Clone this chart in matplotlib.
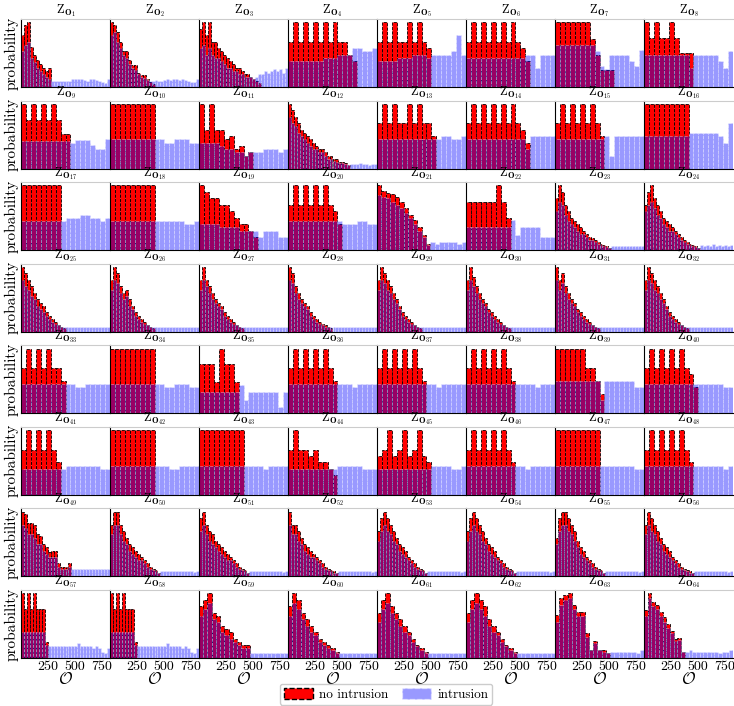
import numpy as np
import matplotlib.pyplot as plt
from matplotlib.patches import Patch

plt.rcParams['font.family'] = ['cmr10', 'DejaVu Serif']
plt.rcParams['mathtext.fontset'] = 'cm'
plt.rcParams['axes.unicode_minus'] = False

# alert weight range covered by every histogram
x_max = 825

# per node: bar heights of the "no intrusion" histogram (red) and of the
# "intrusion" histogram (blue); both use len(intrusion[k]) equal bins over [0, x_max]
no_intrusion = [
    [8, 9.5, 10, 6.2, 5, 4.2, 3.5, 3, 2.5, 3],
    [10, 9.6, 8.5, 7, 5.6, 5.6, 4.2, 3.4, 3.4, 2.2, 1.8, 1.8, 1.2, 0.8, 0.4],
    [9, 10, 8, 10, 7, 7, 6, 5.5, 5, 4.5, 4, 3.5, 3, 3, 2.5, 2, 2, 1.5, 1.2, 1, 0.6],
    [7, 10, 7, 10, 7, 10, 7, 10, 7, 10, 7, 7, 5, 4],
    [7, 10, 7, 10, 7, 7, 10, 7, 10, 7, 6],
    [7, 10, 7, 10, 7, 10, 7, 10, 7, 10, 7, 6, 4],
    [10, 10, 10, 10, 10, 10, 10, 7.4, 5, 2.6, 2.6, 2.6],
    [10, 7.5, 10, 7.5, 7.5, 10, 7.5, 5.2, 5.2, 5.2],
    [10, 7.5, 10, 7.5, 10, 7.5, 10, 7.5, 5.3, 5.3],
    [10, 10, 10, 10, 10, 10, 10, 10, 10],
    [10, 6, 10, 6, 6, 4.5, 5, 3, 3.5, 2, 2.5],
    [10, 9, 8, 7, 6, 5.5, 5, 4.5, 4, 3.5, 3, 3, 2.5, 2, 2, 1.5, 1.5, 1, 1, 0.8, 0.5],
    [7, 10, 7, 10, 7, 7, 10, 7, 10, 7, 7, 5],
    [7, 10, 7, 10, 7, 10, 7, 10, 7, 10, 7, 6, 4],
    [7, 10, 7, 10, 7, 10, 7, 10, 7, 5],
    [10, 10, 10, 10, 10, 10, 10, 10, 10],
    [10, 10, 10, 10, 10, 10, 10, 10],
    [10, 10, 10, 10, 10, 10, 10, 10, 10],
    [10, 9, 8, 8, 7, 7, 6, 5, 4, 4, 3, 2],
    [7, 10, 7, 10, 7, 10, 7, 10, 7, 6, 4],
    [10, 9.2, 8.9, 8.6, 8.2, 7.5, 6.5, 5.5, 4.6, 3.6, 2.4, 1],
    [7.4, 7.4, 7.4, 7.4, 7.4, 7.4, 10, 7.4, 5],
    [8, 10, 9, 7, 6, 5, 4.5, 4, 3.5, 3, 2.5, 2, 1.8, 1.5, 1.2, 1, 0.8, 0.6, 0.4],
    [7, 9, 10, 8, 7, 6, 5, 4.5, 4, 3.5, 3, 2.5, 2, 1.5, 1.2, 1, 0.8, 0.6, 0.4],
    [10, 9, 8, 7, 6, 5, 4.5, 4, 3, 2.5, 2, 1.5, 1, 0.8, 0.5],
    [8, 10, 9, 7, 6, 6.5, 5, 4, 3, 2.5, 2, 1.5, 1, 0.8, 0.5],
    [8, 10, 8, 7, 6, 5, 4.5, 4, 3, 2.5, 2, 1.5, 1, 0.8, 0.5],
    [10, 9, 7, 6, 5, 4.5, 4, 3, 2.5, 2, 1.5, 1.2, 1, 0.8, 0.5],
    [8, 10, 9, 8, 7, 6, 5, 4, 3, 2.5, 2, 1.5, 1, 0.8, 0.5],
    [8, 10, 8.5, 7, 6, 5, 4.5, 3.5, 3, 2.5, 2, 1.5, 1, 0.8, 0.5],
    [10, 8, 9, 7, 6, 5, 4.5, 3.5, 3, 2.5, 2, 1.5, 1, 0.8, 0.5],
    [8, 10, 9, 8, 7, 6, 5, 4, 3, 2.5, 2, 1.5, 1, 0.8, 0.5],
    [7, 10, 7, 10, 7, 10, 7, 7, 5],
    [10, 10, 10, 10, 10, 10, 10, 10, 10],
    [7.6, 7.6, 7.6, 4.8, 10, 7.6, 7.6, 4.8],
    [7, 10, 7, 10, 7, 10, 7, 10, 7, 5],
    [7, 10, 7, 10, 7, 10, 7, 10, 7, 5],
    [7, 10, 7, 10, 7, 10, 7, 10, 7, 5],
    [10, 10, 10, 10, 10, 10, 7, 7, 5, 3],
    [7, 10, 7, 10, 7, 10, 7, 10, 7, 6, 4],
    [7, 10, 7, 10, 7, 10, 7, 5],
    [10, 10, 10, 10, 10, 10, 10, 10, 10],
    [10, 10, 10, 10, 10, 10, 10, 10, 10],
    [7, 10, 7, 7, 6, 7, 5, 5, 4, 3],
    [6, 7, 10, 6, 7, 10, 6, 7, 10, 6, 5],
    [7, 10, 7, 10, 7, 10, 7, 10, 7, 5],
    [10, 10, 10, 10, 10, 10, 10, 10, 10],
    [7, 10, 7, 10, 7, 10, 7, 10, 7, 5],
    [10, 9.6, 8.3, 8.3, 8, 6.5, 6.2, 5, 4.5, 3.8, 4, 4, 2, 1.4, 1.4, 1.4, 2],
    [8, 10, 10, 8, 7, 6, 5, 4.5, 4, 3.5, 3, 2.5, 2, 1.5, 1.2, 1, 0.6],
    [9, 10, 8, 7, 6.5, 5.5, 5, 4.5, 4, 3.5, 3, 2.5, 2, 1.5, 1.2, 1, 0.6],
    [10, 8, 8, 7, 6, 5, 4.5, 4, 3.5, 3, 2.5, 2, 1.5, 1.2, 1, 0.8, 0.6],
    [7, 9, 10, 9, 8, 7, 6, 5, 4.5, 4, 3, 2.5, 2, 1.5, 1.2, 1, 0.6],
    [7, 9, 10, 9, 8, 7, 6, 5, 4.5, 4, 3, 2.5, 2, 1.5, 1.2, 1, 0.6],
    [6, 9, 10, 10, 9, 8, 7, 5.5, 4.5, 4, 3, 2.5, 2, 1.5, 1.2, 1, 0.6],
    [8, 10, 9, 8, 7, 6, 5, 4.5, 4, 3, 2.5, 2, 1.5, 1.2, 1, 0.8, 0.6],
    [10, 7.5, 10, 7.5, 10, 7.5, 7.5, 7.5, 2.5],
    [10, 7.5, 10, 7.5, 10, 7.5, 7.5, 7.5, 2.5],
    [8.1, 9, 10, 7, 6.5, 5, 4.5, 4, 3, 2.5, 2, 2],
    [8, 10, 9, 7, 6, 5, 4, 3, 2.5, 2, 1.5, 1],
    [7, 9, 10, 8, 7, 6, 5, 4, 3, 2, 1.5, 1],
    [7, 9, 10, 9, 8, 6, 5, 4, 3, 2, 1.5, 1],
    [6.6, 9.2, 9.7, 10, 8.2, 7.1, 7.1, 3.9, 1.3, 2.6, 1.3, 1.3, 0.8],
    [7.4, 10, 8.7, 8.2, 7.1, 6.3, 5.3, 4.2, 2.9, 3.1, 1],
]

intrusion = [
    [5.5, 6.5, 7, 4.5, 3.8, 3, 2.5, 2, 1.6, 1.3, 1, 1, 1, 1, 1, 1, 1, 1.2, 1.3, 1.2, 1.2, 1.1, 1, 1.2, 1.2, 1.1, 1, 0.8, 0.6, 1.3],
    [8, 8.5, 7, 6, 5, 4.5, 3.5, 3, 2.6, 2, 1.6, 1.4, 1.1, 1, 1, 1.1, 1, 1, 1.1, 1.2, 1.1, 1.2, 1.2, 1.1, 1.2, 1.1, 1, 0.8, 0.8, 1.3],
    [6, 6.5, 5, 6, 5, 4.5, 4.5, 4, 3.5, 3, 3, 2.5, 2.5, 2, 2, 1.5, 1.5, 1.5, 1.2, 1.5, 2, 2, 2.5, 2.2, 2.5, 2.8, 2.5, 2.8, 2.2, 3],
    [4, 4, 4, 4, 4, 4, 4, 4.5, 4.5, 4.5, 5, 5, 5, 6, 6, 5.5, 5.5, 6],
    [4, 4, 4, 4, 4.5, 4.5, 4.5, 5, 5, 5, 4.5, 5, 5, 5, 5, 5.5, 8, 5],
    [4.5, 4.5, 4.5, 4.5, 4.5, 4.5, 4.5, 4.5, 4.5, 4.5, 4.5, 4.5, 5, 5, 3, 5, 5, 5],
    [6.5, 6.5, 6.5, 6.5, 6.5, 6.5, 6.5, 6.5, 5.5, 3.2, 2.8, 5, 5, 5, 5, 4, 3.3, 5.7],
    [5, 5, 5, 5, 5, 5, 5, 5, 5, 3, 5, 5, 5, 5, 5, 4, 3, 5.5],
    [4.2, 4.2, 4.2, 4.2, 4.2, 4.2, 4.2, 4.2, 4.2, 4.2, 4, 4.4, 4.4, 4.4, 3.7, 3, 3, 4.5],
    [4.5, 4.5, 4.5, 4.5, 4.5, 4.5, 4.5, 4.5, 4.5, 4.5, 4.5, 4, 4, 4.5, 4.5, 4.5, 4, 4],
    [4, 4, 4, 4, 3.5, 3, 3, 2.5, 2.5, 2, 2.5, 2.5, 2.5, 3, 3, 3, 2.5, 3],
    [8, 7, 6.5, 5.5, 5, 4.5, 4, 3.5, 3, 3, 2.5, 2.5, 2, 1.5, 1.5, 1.2, 1, 0.8, 0.8, 0.7, 0.5, 0.7, 0.7, 0.7, 0.8, 0.7, 0.7, 0.6, 0.7, 0.7],
    [4.5, 4.5, 4.5, 4.5, 4.5, 4.5, 4.5, 4.5, 4.5, 4.5, 4.5, 4.5, 4.5, 5, 5, 4.5, 4.5, 5],
    [4.5, 4.5, 4.5, 4.5, 4.5, 4.5, 4.5, 4.5, 4.5, 4.5, 4.5, 4.5, 3, 5, 5, 5, 5, 5],
    [4.5, 4.5, 4.5, 4.5, 4.5, 4.5, 4.5, 4.5, 4.5, 4.5, 5, 2, 5, 5, 5, 5, 5, 5],
    [5, 5, 5, 5, 5, 5, 5, 5, 5, 5.5, 5.5, 5.5, 5.5, 5.5, 5.5, 5, 4, 7],
    [4.5, 4.5, 4.5, 4.5, 4.5, 4.5, 4.5, 4.5, 4.5, 5, 5, 5, 5.5, 5.5, 5, 5, 4.5, 5],
    [4.5, 4.5, 4.5, 4.5, 4.5, 4.5, 4.5, 4.5, 4.5, 4.5, 4.5, 4.5, 4.5, 4.5, 4.5, 4, 4, 4.5],
    [4, 4, 4, 4, 3.5, 3.5, 3.5, 3.5, 3, 3, 3, 3, 2, 3, 3, 3, 2, 2],
    [4.5, 4.5, 4.5, 4.5, 4.5, 4.5, 4.5, 4.5, 4.5, 4.5, 4.5, 4, 4, 4, 4.5, 4.5, 4, 4],
    [8.5, 8.2, 8, 7.5, 7, 6.5, 5.8, 5, 4, 3, 2, 0.8, 1.2, 1, 1.2, 1.3, 1.2, 1.2, 0.9, 1.3],
    [3.6, 3.6, 3.6, 3.6, 3.6, 3.6, 3.6, 3.6, 3.6, 4.6, 2.3, 3.6, 3.6, 3.6, 3.6, 2, 2, 2],
    [6, 7.5, 7, 5.5, 4.5, 4, 3.5, 3, 2.5, 2.5, 2, 1.5, 1.5, 1.2, 1, 0.8, 0.6, 0.5, 0.4, 0.7, 0.7, 0.6, 0.7, 0.7, 0.6, 0.7, 0.6, 0.6, 0.7, 0.7],
    [6, 7, 7.5, 6.5, 5.5, 5, 4, 3.5, 3, 3, 2.5, 2, 1.5, 1.2, 1, 0.8, 0.6, 0.5, 0.4, 0.8, 0.7, 0.8, 0.7, 0.9, 0.7, 0.8, 0.7, 0.8, 0.7, 0.8],
    [8, 7, 6.5, 5.5, 5, 4, 3.5, 3, 2.5, 2, 1.5, 1.2, 1, 0.8, 0.8, 0.8, 0.8, 0.8, 0.8, 0.8, 0.8, 0.8, 0.8, 0.8, 0.8, 0.8, 0.8, 0.7, 0.7, 0.8],
    [6.5, 8, 7.5, 6, 5, 5.5, 4, 3.5, 2.5, 2, 1.5, 1.2, 1, 0.8, 0.8, 0.8, 0.8, 0.8, 0.8, 0.8, 0.8, 0.8, 0.8, 0.8, 0.8, 0.8, 0.8, 0.7, 0.7, 0.8],
    [6.5, 8, 7, 6, 5, 4.5, 4, 3.5, 2.5, 2, 1.5, 1.2, 1, 0.8, 0.8, 0.8, 0.8, 0.8, 0.8, 0.8, 0.8, 0.8, 0.8, 0.8, 0.8, 0.8, 0.8, 0.7, 0.7, 0.8],
    [8, 7.5, 6, 5, 4.5, 4, 3.5, 2.5, 2, 1.5, 1.2, 1, 0.8, 0.8, 0.8, 0.8, 0.8, 0.8, 0.8, 0.8, 0.8, 0.8, 0.8, 0.8, 0.8, 0.8, 0.8, 0.7, 0.7, 0.8],
    [6.5, 8, 7.5, 6.5, 6, 5, 4.5, 3.5, 2.5, 2, 1.5, 1.2, 1, 0.8, 0.8, 0.8, 0.8, 0.8, 0.8, 0.8, 0.8, 0.8, 0.8, 0.8, 0.8, 0.8, 0.8, 0.7, 0.7, 0.8],
    [6.5, 8, 7, 6, 5, 4.5, 4, 3, 2.5, 2, 1.5, 1.2, 1, 0.8, 0.8, 0.8, 0.8, 0.8, 0.8, 0.8, 0.8, 0.8, 0.8, 0.8, 0.8, 0.8, 0.8, 0.7, 0.7, 0.8],
    [8, 6.5, 7.5, 6, 5, 4.5, 4, 3, 2.5, 2, 1.5, 1.2, 1, 0.8, 0.8, 0.8, 0.8, 0.8, 0.8, 0.8, 0.8, 0.8, 0.8, 0.8, 0.8, 0.8, 0.8, 0.7, 0.7, 0.8],
    [6.5, 8, 7.5, 6.5, 6, 5, 4.5, 3.5, 2.5, 2, 1.5, 1.2, 1, 0.8, 0.8, 0.8, 0.8, 0.8, 0.8, 0.8, 0.8, 0.8, 0.8, 0.8, 0.8, 0.8, 0.8, 0.7, 0.7, 0.8],
    [4.5, 4.5, 4.5, 4.5, 4.5, 4.5, 4.5, 4.5, 4.5, 4.5, 4.5, 4, 4, 4.5, 4.5, 4.5, 4.5, 4.5],
    [4.5, 4.5, 4.5, 4.5, 4.5, 4.5, 4.5, 4.5, 4.5, 4.5, 4.5, 4, 4, 4.5, 4.5, 4.5, 4, 4],
    [3.3, 3.3, 3.3, 3.3, 3.3, 3.3, 3.3, 3.3, 4.3, 2, 3.3, 3.3, 3.3, 3.3, 3.3, 3.3, 1, 3.3],
    [4.5, 4.5, 4.5, 4.5, 4.5, 4.5, 4.5, 4.5, 4.5, 4.5, 4.5, 4.5, 4.5, 4, 4.5, 4.5, 4.5, 4.5],
    [4.5, 4.5, 4.5, 4.5, 4.5, 4.5, 4.5, 4.5, 4.5, 4.5, 4.5, 4.5, 4, 4.5, 4.5, 4.5, 4.5, 4.5],
    [4.5, 4.5, 4.5, 4.5, 4.5, 4.5, 4.5, 4.5, 4.5, 4.5, 4.5, 4.5, 4.5, 4.5, 4, 4.5, 4.5, 4.5],
    [5, 5, 5, 5, 5, 5, 5, 5, 5, 2, 5, 5, 5, 5, 5, 5, 4, 4],
    [4.5, 4.5, 4.5, 4.5, 4.5, 4.5, 4.5, 4.5, 4.5, 4.5, 4.5, 4.5, 4.5, 4.5, 4.5, 4.5, 4, 4],
    [4, 4, 4, 4, 4, 4, 4, 4, 4, 4.5, 4.5, 4.5, 4.5, 4.5, 4.5, 4.5, 4, 4],
    [4.5, 4.5, 4.5, 4.5, 4.5, 4.5, 4.5, 4.5, 4.5, 4.5, 4.5, 4.5, 4, 4, 4.5, 4.5, 4.5, 4.5],
    [4.5, 4.5, 4.5, 4.5, 4.5, 4.5, 4.5, 4.5, 4.5, 4.5, 4.5, 4.5, 4.5, 4, 4.5, 4.5, 4.5, 4.5],
    [4, 4, 4, 4, 4, 4, 4, 4, 4, 4, 4.5, 4.5, 4.5, 4.5, 4.5, 4, 4, 4],
    [4, 4, 4, 4, 4, 4, 4, 4, 4, 4, 4, 4.5, 4.5, 4.5, 4.5, 4, 4, 4.5],
    [4.5, 4.5, 4.5, 4.5, 4.5, 4.5, 4.5, 4.5, 4.5, 4.5, 4.5, 4.5, 4, 4.5, 4.5, 4.5, 4.5, 4.5],
    [4.5, 4.5, 4.5, 4.5, 4.5, 4.5, 4.5, 4.5, 4.5, 4.5, 4.5, 4.5, 4.5, 4.5, 4.5, 4.5, 4, 4],
    [4.5, 4.5, 4.5, 4.5, 4.5, 4.5, 4.5, 4.5, 4.5, 4.5, 4.5, 4.5, 4.5, 4.5, 4.5, 4.5, 4, 4.5],
    [8, 7.5, 6.5, 6.5, 6, 5, 5, 4, 3.5, 3, 3, 3, 1.5, 1.2, 1.2, 1.2, 1.5, 1.2, 1.2, 1.2, 1.1, 1.2, 1.2, 1.1, 1.2, 1.2, 1.1, 1.2, 1.2, 1.2],
    [6.5, 8, 8, 6.5, 5.5, 5, 4, 3.5, 3, 2.5, 2.5, 2, 1.5, 1.2, 1, 0.8, 0.5, 0.8, 0.8, 0.8, 0.8, 0.8, 0.8, 0.8, 0.8, 0.8, 0.8, 0.8, 0.7, 0.8],
    [7, 8, 6.5, 5.5, 5, 4.5, 4, 3.5, 3, 2.5, 2.5, 2, 1.5, 1.2, 1, 0.8, 0.5, 0.8, 0.8, 0.8, 0.8, 0.8, 0.8, 0.8, 0.8, 0.8, 0.8, 0.8, 0.7, 0.8],
    [8, 6.5, 6.5, 5.5, 5, 4, 3.5, 3, 3, 2.5, 2, 1.5, 1.2, 1, 0.8, 0.6, 0.5, 0.8, 0.8, 0.8, 0.8, 0.8, 0.8, 0.8, 0.8, 0.8, 0.8, 0.8, 0.7, 0.8],
    [5.5, 7, 8, 7, 6.5, 5.5, 5, 4, 3.5, 3, 2.5, 2, 1.5, 1.2, 1, 0.8, 0.5, 0.8, 0.8, 0.8, 0.8, 0.8, 0.8, 0.8, 0.8, 0.8, 0.8, 0.8, 0.7, 0.8],
    [5.5, 7, 8, 7, 6.5, 5.5, 5, 4, 3.5, 3, 2.5, 2, 1.5, 1.2, 1, 0.8, 0.5, 0.8, 0.8, 0.8, 0.8, 0.8, 0.8, 0.8, 0.8, 0.8, 0.8, 0.8, 0.7, 0.8],
    [5, 7, 8, 8, 7, 6.5, 5.5, 4.5, 3.5, 3, 2.5, 2, 1.5, 1.2, 1, 0.8, 0.5, 0.8, 0.8, 0.8, 0.8, 0.8, 0.8, 0.8, 0.8, 0.8, 0.8, 0.8, 0.7, 0.8],
    [6.5, 8, 7, 6.5, 5.5, 5, 4, 3.5, 3, 2.5, 2, 1.5, 1.2, 1, 0.8, 0.6, 0.5, 0.8, 0.8, 0.8, 0.8, 0.8, 0.8, 0.8, 0.8, 0.8, 0.8, 0.8, 0.7, 0.8],
    [4, 4, 4, 4, 4, 4, 4, 4, 2, 1.8, 1.8, 1.8, 1.8, 1.8, 1.8, 1.8, 1.8, 1.8, 1.8, 2.3, 1.8, 1.8, 1.8, 1.8, 1.5, 1.8, 1.5, 1, 0.8, 1.5],
    [4, 4, 4, 4, 4, 4, 4, 4, 2, 1.8, 1.8, 1.8, 1.8, 1.8, 1.8, 1.8, 1.8, 1.8, 1.8, 2.3, 1.8, 1.8, 1.8, 1.8, 1.5, 1.8, 1.5, 1, 0.8, 1.5],
    [6.5, 7.5, 8.5, 6, 5.5, 4, 3.5, 3, 2.5, 2, 1.5, 1.5, 0.8, 0.8, 0.8, 0.8, 0.8, 0.8, 0.8, 0.8, 0.8],
    [6.5, 8.5, 7.5, 6, 5, 4, 3.5, 2.5, 2, 1.5, 1.2, 0.8, 0.8, 0.8, 0.8, 0.8, 0.8, 0.8, 0.8, 0.8, 0.8],
    [5.5, 7.5, 8.5, 7, 6, 5, 4, 3.5, 2.5, 1.8, 1.2, 0.8, 0.8, 0.8, 0.8, 0.8, 0.8, 0.8, 0.8, 0.8, 0.8],
    [5.5, 7.5, 8.5, 7.5, 6.5, 5, 4, 3.5, 2.5, 1.8, 1.2, 0.8, 0.8, 0.8, 0.8, 0.8, 0.8, 0.8, 0.8, 0.8, 0.8],
    [5.5, 8.2, 8.9, 9.2, 7.5, 6.5, 6.5, 3.3, 1.3, 2.3, 1.3, 1, 0.8, 1, 1, 1, 1, 1, 0.9, 0.8, 1.2],
    [6.5, 9.2, 8, 7.5, 6.5, 5.6, 4.7, 3.8, 2.6, 2.8, 1, 1, 1.3, 1, 1, 1, 1, 1, 1, 0.9, 0.8, 1, 1, 1.3],
]

red_color = '#ff0000'
blue_color = '#0000ff'

fig, axes = plt.subplots(8, 8, figsize=(7.34, 7.06), dpi=100, sharex=True)
fig.subplots_adjust(left=21 / 734, right=733 / 734, top=1 - 19 / 706,
                    bottom=1 - 658 / 706, wspace=0, hspace=0.2)

for k, ax in enumerate(axes.flat):
    red = np.array(no_intrusion[k], dtype=float)
    blue = np.array(intrusion[k], dtype=float)
    edges = np.linspace(0, x_max, len(blue) + 1)
    centers = 0.5 * (edges[:-1] + edges[1:])
    ax.hist(centers[:len(red)], bins=edges, weights=red, color=red_color,
            edgecolor='black', linestyle='--', linewidth=0.6)
    ax.hist(centers, bins=edges, weights=blue, color=blue_color, alpha=0.4,
            edgecolor='white', linestyle='--', linewidth=0.6)
    ax.set_xlim(0, x_max)
    ax.set_yticks([])
    ax.set_xticks([250, 500, 750])
    ax.tick_params(length=0, labelsize=10, pad=2)
    ax.set_title(r'$\mathrm{Z}_{\mathbf{O}_{%d}}$' % (k + 1), fontsize=9, pad=2)
    ax.spines['right'].set_visible(False)
    ax.spines['top'].set_color('#cccccc')
    ax.spines['left'].set_color('black')
    ax.spines['bottom'].set_color('black')
    if k % 8 == 0:
        ax.set_ylabel('probability', fontsize=11, labelpad=2)
    if k >= 56:
        ax.set_xlabel(r'$\mathcal{O}$', fontsize=12, labelpad=-1)

fig.text(0.525, 1 - 3 / 706,
         r'Distributions of $\hat{y}$ alerts weighted by priority '
         r'$\mathrm{Z}_{\mathbf{O}_i}(\mathcal{O}_i \mid \mathcal{I}_i = 0, \mathbf{O}_i)$ per node $i \in \mathcal{V}$',
         ha='center', va='bottom', fontsize=10.5)

handles = [Patch(facecolor=red_color, edgecolor='black', linestyle='--', label='no intrusion'),
           Patch(facecolor=blue_color, alpha=0.4, edgecolor='white', linestyle='--', label='intrusion')]
fig.legend(handles=handles, loc='lower center', bbox_to_anchor=(0.526, -0.008), ncol=2,
           fontsize=9.5, handlelength=2.2, handleheight=1.0, handletextpad=0.5,
           borderpad=0.3, columnspacing=1.0, framealpha=1, edgecolor='#cccccc')

fig.savefig('out.png', dpi=100)
